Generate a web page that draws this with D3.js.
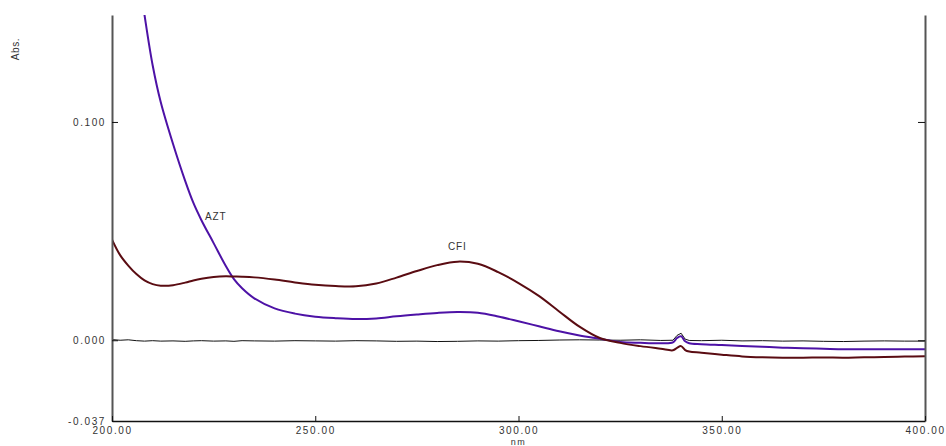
<!DOCTYPE html>
<html>
<head>
<meta charset="utf-8">
<script src="https://cdn.jsdelivr.net/npm/d3@7"></script>
<style>
  body { margin: 0; background: #fff; }
  svg { display: block; }
  text { font-family: "Liberation Sans", Arial, sans-serif; }
</style>
</head>
<body>
<svg id="chart" width="946" height="446"></svg>
<script>
// wavelengths (nm)
const nm = [200, 202, 204, 206, 208, 210, 212, 215, 218, 220, 222, 225, 228, 230, 232, 235,
  240, 245, 250, 255, 260, 265, 270, 275, 280, 285, 290, 295, 300, 305, 310, 315, 320,
  325, 330, 335, 338, 339, 340, 341, 342, 345, 350, 355, 360, 365, 370, 375, 380, 385,
  390, 395, 400];

// absorbance, AZT
const azt = [0.28, 0.24, 0.205, 0.175, 0.149, 0.126, 0.109, 0.090, 0.073, 0.063, 0.055,
  0.0445, 0.0340, 0.0280, 0.0238, 0.0192, 0.0146, 0.0122, 0.0108, 0.0101, 0.0097, 0.0100,
  0.0110, 0.0118, 0.0125, 0.0129, 0.0126, 0.0109, 0.0087, 0.0064, 0.0041, 0.0022, 0.0007,
  -0.0008, -0.0012, -0.0014, -0.0010, 0.0010, 0.0018, -0.0005, -0.0014, -0.0018, -0.0022,
  -0.0026, -0.0030, -0.0034, -0.0037, -0.0039, -0.0041, -0.0041, -0.0041, -0.0041, -0.0041];

// absorbance, CFI
const cfi = [0.0461, 0.0390, 0.0342, 0.0303, 0.0274, 0.0257, 0.0250, 0.0252, 0.0264, 0.0274,
  0.0282, 0.0290, 0.0293, 0.0292, 0.0291, 0.0288, 0.0278, 0.0265, 0.0254, 0.0248, 0.0247,
  0.0260, 0.0287, 0.0317, 0.0344, 0.0360, 0.0350, 0.0312, 0.0262, 0.0203, 0.0132, 0.0062,
  0.0010, -0.0012, -0.0027, -0.0039, -0.0046, -0.0035, -0.0027, -0.0045, -0.0052, -0.0057,
  -0.0066, -0.0074, -0.0078, -0.0080, -0.0080, -0.0079, -0.0080, -0.0078, -0.0077, -0.0075,
  -0.0073];

// blank baseline
const blank = [0.0003, 0.0000, 0.0002, -0.0002, -0.0004, -0.0002, -0.0004, -0.0003, -0.0005,
  -0.0003, -0.0002, -0.0004, -0.0003, -0.0005, -0.0002, -0.0003, -0.0004, -0.0002, -0.0003,
  -0.0004, -0.0002, -0.0003, -0.0005, -0.0004, -0.0006, -0.0005, -0.0003, -0.0004, -0.0002,
  -0.0001, 0.0001, 0.0002, 0.0001, 0.0000, 0.0002, -0.0001, 0.0000, 0.0022, 0.0032, 0.0005,
  -0.0001, -0.0002, 0.0000, -0.0003, -0.0002, -0.0004, -0.0003, -0.0005, -0.0006, -0.0004,
  -0.0003, -0.0004, -0.0004];

const xTicks = [200, 250, 300, 350, 400];
const yTicks = [-0.037, 0, 0.1];

const svg = d3.select("#chart");
const mLeft = 112, mRight = 925, mTop = 15, mBottom = 421;

const x = d3.scaleLinear().domain([200, 400]).range([mLeft, mRight]);
const y = d3.scaleLinear().domain([-0.037, 0.149]).range([mBottom, mTop]);

svg.append("clipPath").attr("id", "plot")
  .append("rect").attr("x", mLeft).attr("y", mTop)
  .attr("width", mRight - mLeft).attr("height", mBottom - mTop);

const line = (vals, curve) => d3.line()
  .x((d, i) => x(nm[i]))
  .y((d) => y(d))
  .curve(curve)(vals);

const g = svg.append("g").attr("clip-path", "url(#plot)");

g.append("path").attr("d", line(blank, d3.curveLinear))
  .attr("fill", "none").attr("stroke", "#111").attr("stroke-width", 1);
g.append("path").attr("d", line(azt, d3.curveCatmullRom))
  .attr("fill", "none").attr("stroke", "#4d12a6").attr("stroke-width", 2);
g.append("path").attr("d", line(cfi, d3.curveCatmullRom))
  .attr("fill", "none").attr("stroke", "#5a0c12").attr("stroke-width", 2);

// axes
const tickText = (sel) => sel.selectAll("text")
  .attr("fill", "#333").style("font-size", "10px").style("letter-spacing", "1.6px");

const fmtY = (d) => d3.format(".3f")(d).replace("\u2212", "-");

const yAxisL = svg.append("g").attr("transform", `translate(${mLeft},0)`)
  .call(d3.axisLeft(y).tickValues(yTicks).tickFormat(fmtY)
    .tickSizeInner(-6).tickSizeOuter(0).tickPadding(6));
yAxisL.select(".domain").attr("stroke", "#555").attr("stroke-width", 2);
yAxisL.selectAll(".tick line").attr("stroke", "#111");
tickText(yAxisL);

const yAxisR = svg.append("g").attr("transform", `translate(${mRight},0)`)
  .call(d3.axisRight(y).tickValues(yTicks).tickFormat("")
    .tickSizeInner(-7).tickSizeOuter(0));
yAxisR.select(".domain").attr("stroke", "#555").attr("stroke-width", 2);
yAxisR.selectAll(".tick line").attr("stroke", "#111");

const xAxis = svg.append("g").attr("transform", `translate(0,${mBottom})`)
  .call(d3.axisBottom(x).tickValues(xTicks).tickFormat(d3.format(".2f"))
    .tickSizeInner(-5).tickSizeOuter(0).tickPadding(6));
xAxis.select(".domain").attr("stroke", "#111").attr("stroke-width", 1.5);
xAxis.selectAll(".tick line").attr("stroke", "#111");
tickText(xAxis);

// axis titles
svg.append("text").attr("transform", "translate(19,49) rotate(-90)")
  .attr("text-anchor", "middle").attr("fill", "#333")
  .style("font-size", "10px").style("letter-spacing", "0.6px").text("Abs.");
svg.append("text").attr("x", x(300)).attr("y", 445)
  .attr("text-anchor", "middle").attr("fill", "#333")
  .style("font-size", "9px").style("letter-spacing", "1.4px").text("nm");

// curve labels
svg.append("text").attr("x", 205).attr("y", 220).attr("fill", "#333")
  .style("font-size", "10px").style("letter-spacing", "0.8px").text("AZT");
svg.append("text").attr("x", 448).attr("y", 250).attr("fill", "#333")
  .style("font-size", "10px").style("letter-spacing", "0.8px").text("CFI");
</script>
</body>
</html>
